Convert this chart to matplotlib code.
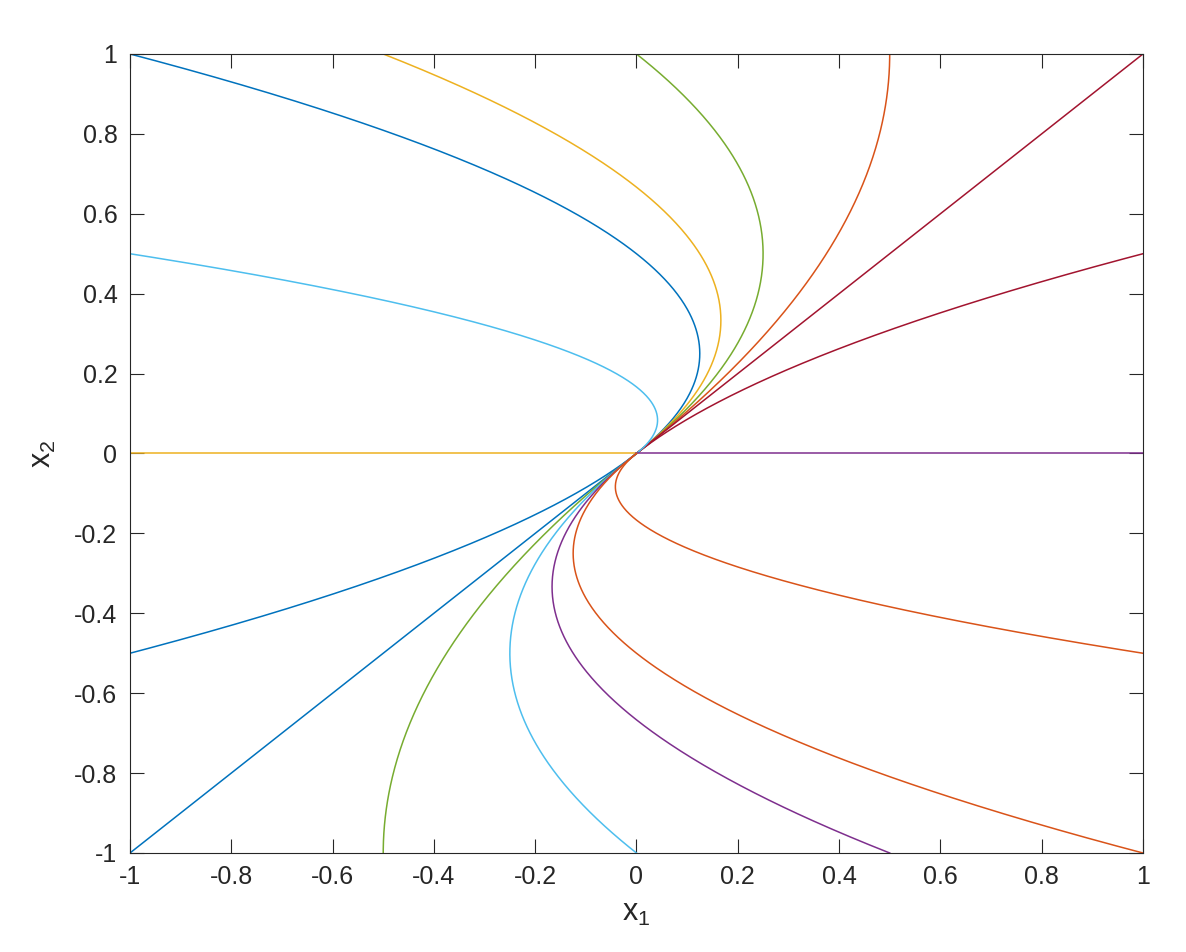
import numpy as np
import matplotlib
matplotlib.use("Agg")
import matplotlib.pyplot as plt

# Phase portrait of x1' = 2*x1 - x2, x2' = x2 (trajectories pass through origin)
start_x1 = [-1, -0.5, 0, 0.5, 1, 1, -1, -1, 1, -1, -1, -0.5, 0, 0.5, 1, 1]
start_x2 = [1, 1, 1, 1, 1, 0.5, 0.5, 0, 0, -0.5, -1, -1, -1, -1, -1, -0.5]
colors = ['#0072BD', '#EDB120', '#77AC30', '#D95319', '#A2142F', '#A2142F',
          '#4DBEEE', '#EDB120', '#7E2F8E', '#0072BD', '#0072BD', '#77AC30',
          '#4DBEEE', '#7E2F8E', '#D95319', '#D95319']
ticks = [-1, -0.8, -0.6, -0.4, -0.2, 0, 0.2, 0.4, 0.6, 0.8, 1]
tick_labels = ['-1', '-0.8', '-0.6', '-0.4', '-0.2', '0', '0.2', '0.4', '0.6', '0.8', '1']

plt.rcParams['font.family'] = ['Liberation Sans', 'DejaVu Sans']

fig = plt.figure(figsize=(11.86, 9.52), dpi=100)
ax = fig.add_axes([0.1096, 0.104, 0.8541, 0.8393])

for a, b, col in zip(start_x1, start_x2, colors):
    if b == 0:
        x1 = np.linspace(a, 0, 200)
        x2 = np.zeros_like(x1)
    else:
        # trajectory: x1 = x2 + c * x2^2
        c = (a - b) / b ** 2
        x2 = np.linspace(0, b, 400)
        x1 = x2 + c * x2 ** 2
    ax.plot(x1, x2, color=col, linewidth=1.1)

ax.set_xlim(-1, 1)
ax.set_ylim(-1, 1)
ax.set_xticks(ticks)
ax.set_xticklabels(tick_labels)
ax.set_yticks(ticks)
ax.set_yticklabels(tick_labels)
ax.tick_params(direction='in', length=10, width=0.8, top=True, right=True,
               labelsize=18, colors='#262626', pad=9)
for s in ax.spines.values():
    s.set_color('#262626')
    s.set_linewidth(0.8)

ax.set_xlabel(r'$\mathregular{x_1}$', fontsize=22, color='#262626', labelpad=6)
ax.set_ylabel(r'$\mathregular{x_2}$', fontsize=22, color='#262626', labelpad=12)

fig.savefig('out.png', dpi=100)
